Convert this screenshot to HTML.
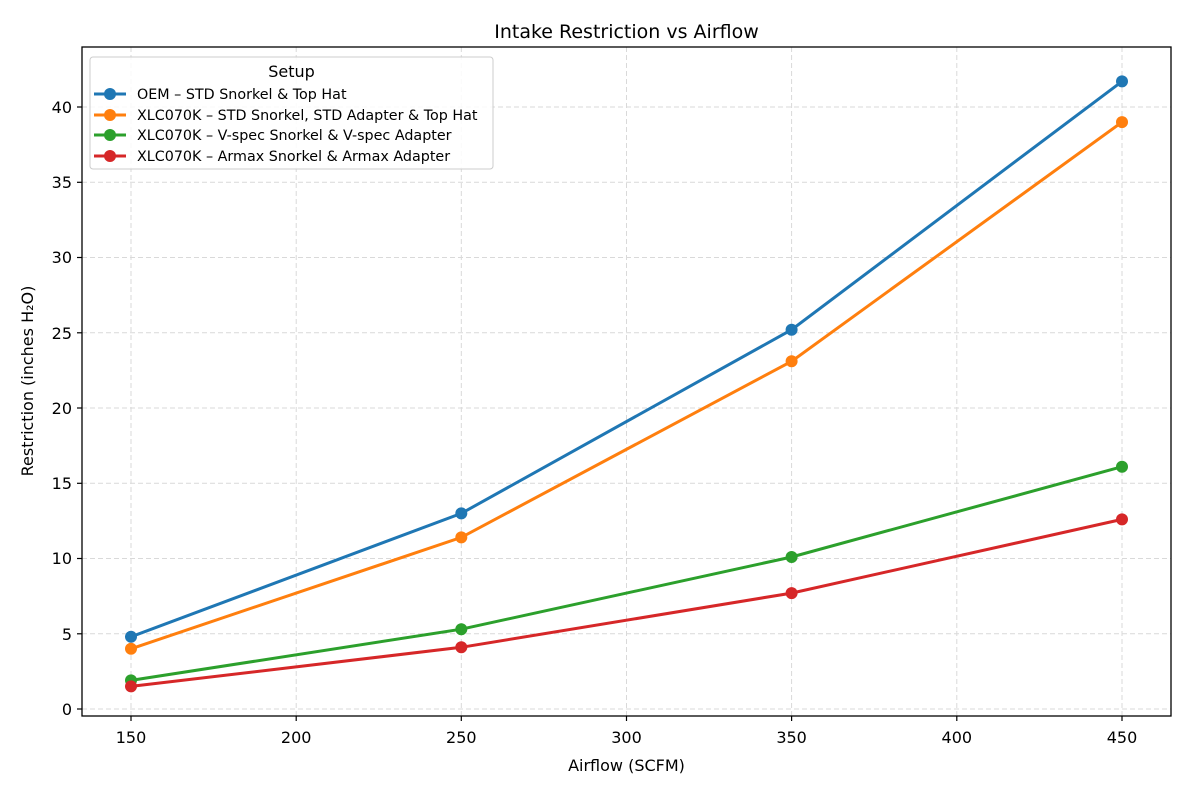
<!DOCTYPE html>
<html><head><style>body{margin:0;background:#fff}svg{font-family:"DejaVu Sans","Liberation Sans",sans-serif}</style></head><body>
<svg width="1191" height="794" viewBox="0 0 1191 794" xmlns="http://www.w3.org/2000/svg">
<rect width="1191" height="794" fill="#fff"/>
<g stroke="#d9d9d9" stroke-dasharray="5,3" stroke-width="1">
<line x1="131" y1="47" x2="131" y2="716"/><line x1="296.2" y1="47" x2="296.2" y2="716"/><line x1="461.3" y1="47" x2="461.3" y2="716"/><line x1="626.5" y1="47" x2="626.5" y2="716"/><line x1="791.6" y1="47" x2="791.6" y2="716"/><line x1="956.8" y1="47" x2="956.8" y2="716"/><line x1="1122" y1="47" x2="1122" y2="716"/>
<line x1="82" y1="709" x2="1171" y2="709"/><line x1="82" y1="633.8" x2="1171" y2="633.8"/><line x1="82" y1="558.5" x2="1171" y2="558.5"/><line x1="82" y1="483.3" x2="1171" y2="483.3"/><line x1="82" y1="408" x2="1171" y2="408"/><line x1="82" y1="332.8" x2="1171" y2="332.8"/><line x1="82" y1="257.5" x2="1171" y2="257.5"/><line x1="82" y1="182.3" x2="1171" y2="182.3"/><line x1="82" y1="107" x2="1171" y2="107"/>
</g>
<rect x="82" y="47" width="1089" height="669" fill="none" stroke="#000" stroke-width="1.3"/>
<g stroke="#000" stroke-width="1.2">
<line x1="131" y1="716" x2="131" y2="721"/><line x1="296.2" y1="716" x2="296.2" y2="721"/><line x1="461.3" y1="716" x2="461.3" y2="721"/><line x1="626.5" y1="716" x2="626.5" y2="721"/><line x1="791.6" y1="716" x2="791.6" y2="721"/><line x1="956.8" y1="716" x2="956.8" y2="721"/><line x1="1122" y1="716" x2="1122" y2="721"/>
<line x1="77" y1="709" x2="82" y2="709"/><line x1="77" y1="633.8" x2="82" y2="633.8"/><line x1="77" y1="558.5" x2="82" y2="558.5"/><line x1="77" y1="483.3" x2="82" y2="483.3"/><line x1="77" y1="408" x2="82" y2="408"/><line x1="77" y1="332.8" x2="82" y2="332.8"/><line x1="77" y1="257.5" x2="82" y2="257.5"/><line x1="77" y1="182.3" x2="82" y2="182.3"/><line x1="77" y1="107" x2="82" y2="107"/>
</g>
<g font-size="16" fill="#000" text-anchor="middle">
<text x="131" y="743">150</text><text x="296.2" y="743">200</text><text x="461.3" y="743">250</text><text x="626.5" y="743">300</text><text x="791.6" y="743">350</text><text x="956.8" y="743">400</text><text x="1122" y="743">450</text>
</g>
<g font-size="16" fill="#000" text-anchor="end">
<text x="72" y="715">0</text><text x="72" y="640">5</text><text x="72" y="564">10</text><text x="72" y="489">15</text><text x="72" y="414">20</text><text x="72" y="339">25</text><text x="72" y="263">30</text><text x="72" y="188">35</text><text x="72" y="113">40</text>
</g>
<text x="626.5" y="771" font-size="16" text-anchor="middle">Airflow (SCFM)</text>
<text transform="translate(33,381) rotate(-90)" font-size="16" text-anchor="middle">Restriction (inches H₂O)</text>
<text x="626.5" y="38" font-size="19" text-anchor="middle">Intake Restriction vs Airflow</text>
<g fill="none" stroke-width="3">
<polyline stroke="#1f77b4" points="131,636.8 461.3,513.4 791.6,329.7 1122,81.4"/>
<polyline stroke="#ff7f0e" points="131,648.8 461.3,537.4 791.6,361.3 1122,122.1"/>
<polyline stroke="#2ca02c" points="131,680.4 461.3,629.2 791.6,557 1122,466.7"/>
<polyline stroke="#d62728" points="131,686.4 461.3,647.3 791.6,593.1 1122,519.4"/>
</g>
<g fill="#1f77b4"><circle cx="131" cy="636.8" r="6"/><circle cx="461.3" cy="513.4" r="6"/><circle cx="791.6" cy="329.7" r="6"/><circle cx="1122" cy="81.4" r="6"/></g>
<g fill="#ff7f0e"><circle cx="131" cy="648.8" r="6"/><circle cx="461.3" cy="537.4" r="6"/><circle cx="791.6" cy="361.3" r="6"/><circle cx="1122" cy="122.1" r="6"/></g>
<g fill="#2ca02c"><circle cx="131" cy="680.4" r="6"/><circle cx="461.3" cy="629.2" r="6"/><circle cx="791.6" cy="557" r="6"/><circle cx="1122" cy="466.7" r="6"/></g>
<g fill="#d62728"><circle cx="131" cy="686.4" r="6"/><circle cx="461.3" cy="647.3" r="6"/><circle cx="791.6" cy="593.1" r="6"/><circle cx="1122" cy="519.4" r="6"/></g>
<rect x="90" y="57" width="403" height="112" rx="3" fill="#fff" fill-opacity="0.85" stroke="#ccc"/>
<text x="291.5" y="77" font-size="16" text-anchor="middle">Setup</text>
<g stroke-width="3"><line x1="94" y1="94" x2="126" y2="94" stroke="#1f77b4"/><line x1="94" y1="115" x2="126" y2="115" stroke="#ff7f0e"/><line x1="94" y1="135" x2="126" y2="135" stroke="#2ca02c"/><line x1="94" y1="156" x2="126" y2="156" stroke="#d62728"/></g>
<circle cx="110" cy="94" r="6" fill="#1f77b4"/><circle cx="110" cy="115" r="6" fill="#ff7f0e"/><circle cx="110" cy="135" r="6" fill="#2ca02c"/><circle cx="110" cy="156" r="6" fill="#d62728"/>
<g font-size="14.3"><text x="137" y="99">OEM – STD Snorkel &amp; Top Hat</text><text x="137" y="120">XLC070K – STD Snorkel, STD Adapter &amp; Top Hat</text><text x="137" y="140">XLC070K – V-spec Snorkel &amp; V-spec Adapter</text><text x="137" y="161">XLC070K – Armax Snorkel &amp; Armax Adapter</text></g>
</svg>
</body></html>
